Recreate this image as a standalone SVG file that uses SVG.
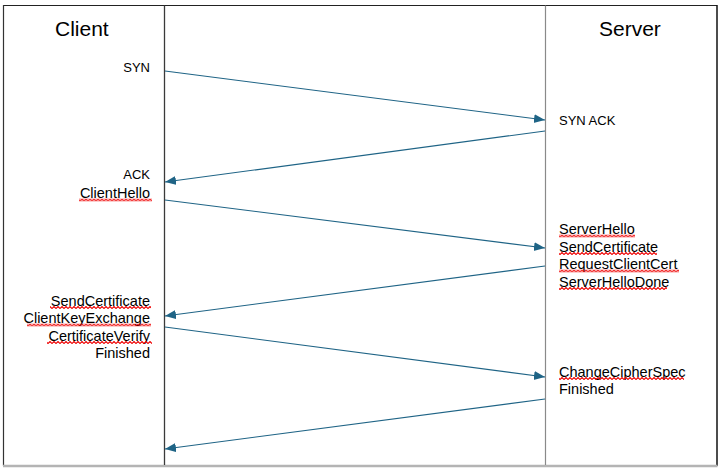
<svg xmlns="http://www.w3.org/2000/svg" width="724" height="470" viewBox="0 0 724 470">
<style>
.lbl{font-family:"Liberation Sans",Arial,sans-serif;font-size:14.5px;fill:#000}
.cap{font-size:13px}
.title{font-family:"Liberation Sans",Arial,sans-serif;font-size:21px;fill:#000}
.r{text-anchor:end}
.conn{stroke:#1f6486;stroke-width:1.15;fill:none;marker-end:url(#ah)}
.sq{fill:url(#wave)}
</style>
<defs>
<marker id="ah" markerUnits="userSpaceOnUse" markerWidth="12" markerHeight="10" refX="11" refY="4.5" orient="auto">
<path d="M0,0 L11,4.5 L0,9 z" fill="#1f6486"/>
</marker>
<pattern id="wave" patternUnits="userSpaceOnUse" x="0" y="0" width="4" height="3">
<path d="M-2,0.5 L0,2.5 L2,0.5 L4,2.5 L6,0.5" fill="none" stroke="#ee0000" stroke-width="1.1"/>
</pattern>
</defs>
<rect x="0" y="0" width="724" height="470" fill="#fff"/>
<g id="frame">
<line x1="3.5" y1="5.5" x2="717" y2="5.5" stroke="#222" stroke-width="1.2"/>
<line x1="3.5" y1="5" x2="3.5" y2="466" stroke="#333" stroke-width="1.2"/>
<line x1="717" y1="5" x2="717" y2="466" stroke="#111" stroke-width="1.5"/>
<line x1="3" y1="466" x2="717.5" y2="466" stroke="#b4b4b4" stroke-width="2.5"/>
</g>
<g id="client-lane">
<line x1="164.5" y1="5.5" x2="164.5" y2="465" stroke="#3a3a3a" stroke-width="1.3"/>
<text class="title" x="55" y="35.5">Client</text>
</g>
<g id="server-lane">
<line x1="545.5" y1="5.5" x2="545.5" y2="465" stroke="#8a8a8a" stroke-width="1.2"/>
<text class="title" x="599" y="35.5">Server</text>
</g>
<g id="client-labels">
<text class="lbl cap r" x="150" y="72">SYN</text>
<text class="lbl cap r" x="150" y="179">ACK</text>
<text class="lbl r" x="150" y="197.5">ClientHello</text>
<text class="lbl r" x="150" y="305.5">SendCertificate</text>
<text class="lbl r" x="150" y="323">ClientKeyExchange</text>
<text class="lbl r" x="150" y="340.5">CertificateVerify</text>
<text class="lbl r" x="150" y="358">Finished</text>
</g>
<g id="server-labels">
<text class="lbl cap" x="559" y="125">SYN ACK</text>
<text class="lbl" x="559" y="234">ServerHello</text>
<text class="lbl" x="559" y="251.5">SendCertificate</text>
<text class="lbl" x="559" y="269">RequestClientCert</text>
<text class="lbl" x="559" y="286.5">ServerHelloDone</text>
<text class="lbl" x="559" y="376.5">ChangeCipherSpec</text>
<text class="lbl" x="559" y="394">Finished</text>
</g>
<g id="spelling-marks">
<rect class="sq" x="79" y="0" width="73" height="3" transform="translate(0,198.5)"/>
<rect class="sq" x="50" y="0" width="101" height="3" transform="translate(0,306)"/>
<rect class="sq" x="27" y="0" width="124" height="3" transform="translate(0,323.5)"/>
<rect class="sq" x="47" y="0" width="105" height="3" transform="translate(0,341)"/>
<rect class="sq" x="559" y="0" width="76" height="3" transform="translate(0,234.5)"/>
<rect class="sq" x="559" y="0" width="98" height="3" transform="translate(0,252)"/>
<rect class="sq" x="559" y="0" width="120" height="3" transform="translate(0,269.5)"/>
<rect class="sq" x="559" y="0" width="108" height="3" transform="translate(0,287)"/>
<rect class="sq" x="559" y="0" width="125" height="3" transform="translate(0,377)"/>
</g>
<g id="connectors">
<line class="conn" x1="165" y1="71" x2="545" y2="120"/>
<line class="conn" x1="545" y1="131" x2="165" y2="182"/>
<line class="conn" x1="165" y1="200" x2="545" y2="248"/>
<line class="conn" x1="545" y1="266" x2="165" y2="316"/>
<line class="conn" x1="165" y1="327" x2="545" y2="377"/>
<line class="conn" x1="545" y1="399" x2="165" y2="449"/>
</g>
</svg>
